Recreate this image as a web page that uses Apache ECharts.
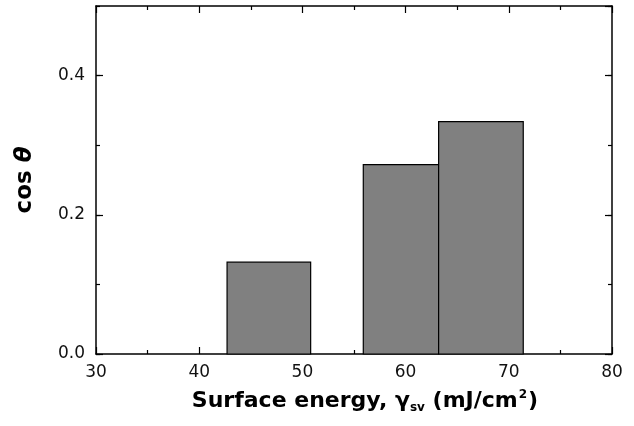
<!DOCTYPE html>
<html>
<head>
<meta charset="utf-8">
<script src="https://cdn.jsdelivr.net/npm/echarts@6/dist/echarts.min.js"></script>
<style>
  html, body { margin: 0; padding: 0; background: #fff; }
  #chart { width: 634px; height: 426px; }
</style>
</head>
<body>
<div id="chart"></div>
<script>
// histogram bins (surface energy, mJ/cm2) and cos theta
const binStart = [42.7, 55.9, 63.2]
const binEnd = [50.8, 63.2, 71.4]
const cosTheta = [0.132, 0.272, 0.334]
const xTicks = [30, 40, 50, 60, 70, 80]
const yTicks = [0.0, 0.2, 0.4]

const font = 'DejaVu Sans, Arial, sans-serif'
const line = { show: true, onZero: false, lineStyle: { color: '#000', width: 1.5 } }

const chart = echarts.init(document.getElementById('chart'), null, { renderer: 'canvas' })

const frameX = (position, labels) => ({
  type: 'value',
  position: position,
  min: xTicks[0],
  max: xTicks[xTicks.length - 1],
  interval: 10,
  axisLine: line,
  axisTick: { show: true, inside: true, length: 7, lineStyle: { color: '#000', width: 1.2 } },
  minorTick: { show: true, splitNumber: 2, length: 4, lineStyle: { color: '#000', width: 1.2 } },
  splitLine: { show: false },
  axisLabel: labels ? {
    show: true, margin: 10, color: '#111', fontFamily: font, fontSize: 17
  } : { show: false }
})

const frameY = (position, interval, len, labels, showLine) => ({
  type: 'value',
  position: position,
  min: 0,
  max: 0.5,
  interval: interval,
  axisLine: showLine ? line : { show: false },
  axisTick: { show: true, inside: true, length: len, lineStyle: { color: '#000', width: 1.2 } },
  splitLine: { show: false },
  axisLabel: labels ? {
    show: true, margin: 11, color: '#111', fontFamily: font, fontSize: 17,
    showMaxLabel: false,
    formatter: v => (yTicks.some(t => Math.abs(t - v) < 1e-9) ? v.toFixed(1) : '')
  } : { show: false }
})

const xMain = frameX('bottom', true)
xMain.name = '{b|Surface energy, }{b|γ}{sub|sv}{b| (mJ/cm}{sup|2}{b|)}'
xMain.nameLocation = 'middle'
xMain.nameGap = 35
xMain.nameTextStyle = {
  padding: [0, 0, 0, 22],
  rich: {
    b: { fontFamily: font, fontWeight: 'bold', fontSize: 22, lineHeight: 25, color: '#000' },
    sub: { fontFamily: font, fontWeight: 'bold', fontSize: 12, lineHeight: 11, color: '#000', verticalAlign: 'bottom' },
    sup: { fontFamily: font, fontWeight: 'bold', fontSize: 12, lineHeight: 12, color: '#000', verticalAlign: 'top', padding: [0, 1, 0, 1] }
  }
}

const yMain = frameY('left', 0.2, 7, true, true)
yMain.name = '{a|cos }{t|θ}'
yMain.nameLocation = 'middle'
yMain.nameGap = 59
yMain.nameTextStyle = {
  rich: {
    a: { fontFamily: font, fontWeight: 'bold', fontSize: 23, color: '#000' },
    t: { fontFamily: font, fontWeight: 'bold', fontStyle: 'italic', fontSize: 23, color: '#000' }
  }
}

chart.setOption({
  animation: false,
  backgroundColor: '#fff',
  grid: { left: 96, right: 22, top: 6, bottom: 72 },
  xAxis: [xMain, frameX('top', false)],
  yAxis: [
    yMain,
    frameY('left', 0.1, 4, false, false),
    frameY('right', 0.2, 7, false, true),
    frameY('right', 0.1, 4, false, false)
  ],
  series: [{
    type: 'custom',
    xAxisIndex: 0,
    yAxisIndex: 0,
    data: cosTheta.map((v, i) => [binStart[i], binEnd[i], v]),
    encode: { x: [0, 1], y: 2 },
    renderItem: (params, api) => {
      const p0 = api.coord([api.value(0), 0])
      const p1 = api.coord([api.value(1), api.value(2)])
      return {
        type: 'rect',
        shape: { x: p0[0], y: p1[1], width: p1[0] - p0[0], height: p0[1] - p1[1] },
        style: { fill: '#808080', stroke: '#000', lineWidth: 1.2 }
      }
    }
  }]
})
</script>
</body>
</html>
